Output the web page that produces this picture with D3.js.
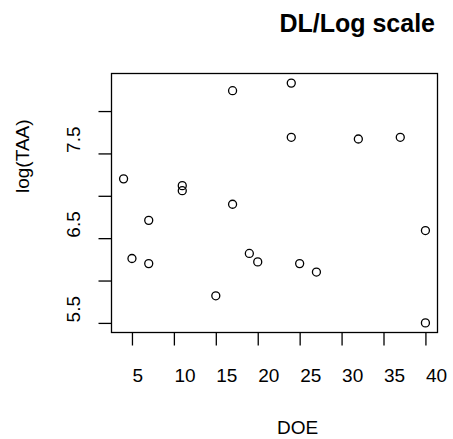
<!DOCTYPE html>
<html>
<head>
<meta charset="utf-8">
<script src="https://cdn.jsdelivr.net/npm/d3@7"></script>
<style>
  body { margin: 0; background: #fff; }
  svg text { font-family: "Liberation Sans", Arial, sans-serif; fill: #000; }
</style>
</head>
<body>
<div id="chart"></div>
<script>
var width = 453;
var height = 439;

// DOE (x) and log(TAA) (y)
var doe = [4, 5, 7, 7, 11, 11, 15, 17, 17, 19, 20, 24, 24, 25, 27, 32, 37, 40, 40];
var logTaa = [7.20, 6.26, 6.71, 6.20, 7.12, 7.06, 5.82, 8.24, 6.90, 6.32, 6.22, 8.33, 7.69, 6.20, 6.10, 7.67, 7.69, 6.59, 5.50];
var xTicks = [5, 10, 15, 20, 25, 30, 35, 40];
var yTicks = [5.5, 6, 6.5, 7, 7.5, 8];
var yLabels = [5.5, 6.5, 7.5];

var box = { left: 111.5, right: 437.5, top: 73.5, bottom: 332.5 };

// R style: extend the data range 4% on each side
function pad(ext) {
    var d = (ext[1] - ext[0]) * 0.04;
    return [ext[0] - d, ext[1] + d];
}

var x = d3.scaleLinear().domain(pad(d3.extent(doe))).range([box.left, box.right]);
var y = d3.scaleLinear().domain(pad(d3.extent(logTaa))).range([box.bottom, box.top]);

var svg = d3.select("#chart").append("svg")
    .attr("width", width)
    .attr("height", height);

svg.append("rect")
    .attr("x", box.left)
    .attr("y", box.top)
    .attr("width", box.right - box.left)
    .attr("height", box.bottom - box.top)
    .attr("fill", "none")
    .attr("stroke", "#000")
    .attr("stroke-width", 1.3);

var xAxis = svg.append("g")
    .attr("transform", "translate(0," + box.bottom + ")")
    .call(d3.axisBottom(x).tickValues(xTicks).tickSize(13).tickFormat(d3.format("d")));
xAxis.select(".domain").remove();
xAxis.selectAll("line").attr("stroke-width", 1.3);
xAxis.selectAll("text")
    .attr("font-size", "19px")
    .attr("text-anchor", "start")
    .attr("dy", null)
    .attr("y", 382 - box.bottom);

var yAxis = svg.append("g")
    .attr("transform", "translate(" + box.left + ",0)")
    .call(d3.axisLeft(y).tickValues(yTicks).tickSize(13)
        .tickFormat(function(d) { return yLabels.indexOf(d) >= 0 ? d3.format(".1f")(d) : ""; }));
yAxis.select(".domain").remove();
yAxis.selectAll("line").attr("stroke-width", 1.3);
yAxis.selectAll("text")
    .attr("font-size", "19px")
    .attr("text-anchor", "start")
    .attr("x", null)
    .attr("dy", null)
    .attr("transform", function() { return "translate(" + (80 - box.left) + ",-1) rotate(-90)"; });

svg.append("g")
    .selectAll("circle")
    .data(doe)
    .enter().append("circle")
    .attr("cx", function(d) { return x(d); })
    .attr("cy", function(d, i) { return y(logTaa[i]); })
    .attr("r", 4)
    .attr("fill", "none")
    .attr("stroke", "#000")
    .attr("stroke-width", 1.3);

svg.append("text")
    .attr("x", 435)
    .attr("y", 32)
    .attr("text-anchor", "end")
    .attr("font-size", "25px")
    .attr("font-weight", "bold")
    .text("DL/Log scale");

svg.append("text")
    .attr("x", 277)
    .attr("y", 434)
    .attr("font-size", "19px")
    .text("DOE");

svg.append("text")
    .attr("transform", "translate(29,193) rotate(-90)")
    .attr("font-size", "19px")
    .text("log(TAA)");
</script>
</body>
</html>
